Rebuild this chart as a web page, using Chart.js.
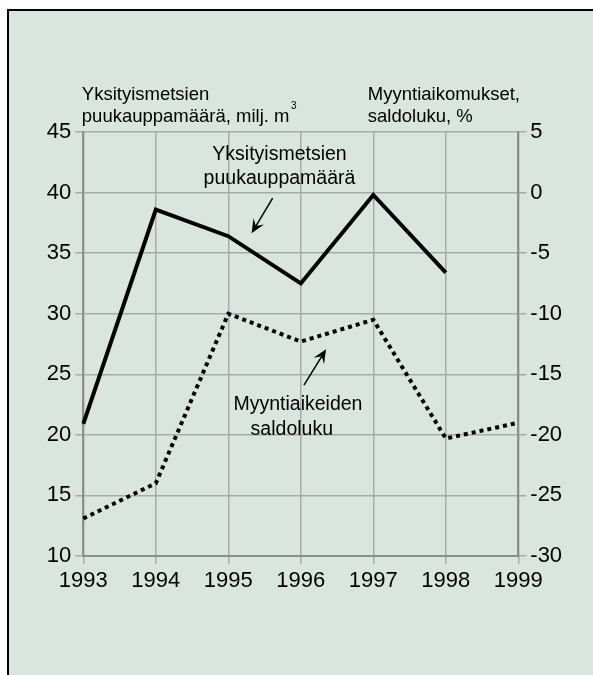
<!DOCTYPE html>
<html>
<head>
<meta charset="utf-8">
<script src="https://cdn.jsdelivr.net/npm/chart.js@4.4.0/dist/chart.umd.min.js"></script>
<style>
  html, body { margin: 0; padding: 0; background: #fff; }
  canvas { display: block; }
</style>
</head>
<body>
<canvas id="chart" width="593" height="675"></canvas>
<script>
/**years on the x axis */
const years = ["1993", "1994", "1995", "1996", "1997", "1998", "1999"];
/**private forest timber sales, million m3 (left axis) */
const timberSales = [20.9, 38.6, 36.4, 32.5, 39.8, 33.4, null];
/**balance of selling intentions, % (right axis) */
const sellBalance = [-26.9, -24.0, -10.0, -12.3, -10.5, -20.3, -19.0];
/**tick values of the two value axes */
const leftTicks = [10, 15, 20, 25, 30, 35, 40, 45];
const rightTicks = [-30, -25, -20, -15, -10, -5, 0, 5];

const FONT = "'Liberation Sans', Arial, Helvetica, sans-serif";
const PANEL = "#d9e5de";
const GRID = "#a9a9a9";
const AXIS = "#8e8e8e";

/**in-plot labels, placed by category index and left axis value */
const notes = [
    { text: "Yksityismetsien", x: 2.706, y: 42.65 },
    { text: "puukauppamäärä", x: 2.706, y: 40.73 },
    { text: "Myyntiaikeiden", x: 2.961, y: 22.04 },
    { text: "saldoluku", x: 2.876, y: 19.98 },
];
/**arrows: from (x1,y1) to the tip (x2,y2) */
const arrows = [
    { x1: 2.612, y1: 39.54, x2: 2.322, y2: 36.65 },
    { x1: 3.044, y1: 24.11, x2: 3.348, y2: 27.06 },
];

/**
 * draw a line with a notched arrow head
 */
function drawArrow(c, x1, y1, x2, y2) {
    const ang = Math.atan2(y2 - y1, x2 - x1);
    const len = 15, spread = 0.42;
    c.beginPath();
    c.moveTo(x1, y1);
    c.lineTo(x2 - 7 * Math.cos(ang), y2 - 7 * Math.sin(ang));
    c.stroke();
    c.beginPath();
    c.moveTo(x2, y2);
    c.lineTo(x2 - len * Math.cos(ang - spread), y2 - len * Math.sin(ang - spread));
    c.lineTo(x2 - len * 0.55 * Math.cos(ang), y2 - len * 0.55 * Math.sin(ang));
    c.lineTo(x2 - len * Math.cos(ang + spread), y2 - len * Math.sin(ang + spread));
    c.closePath();
    c.fill();
}

const panelPlugin = {
    id: "panel",
    beforeDraw(chart) {
        const c = chart.ctx;
        c.save();
        c.fillStyle = "#fff";
        c.fillRect(0, 0, chart.width, chart.height);
        c.fillStyle = PANEL;
        c.fillRect(8, 10, chart.width - 8, chart.height - 10);
        c.strokeStyle = "#000";
        c.lineWidth = 2;
        c.beginPath();
        c.moveTo(8, chart.height);
        c.lineTo(8, 10);
        c.lineTo(chart.width, 10);
        c.stroke();
        c.restore();
    },
    afterDraw(chart) {
        const c = chart.ctx;
        const area = chart.chartArea;
        const xs = chart.scales.x, ys = chart.scales.y;
        c.save();
        c.fillStyle = "#000";
        c.strokeStyle = "#000";
        // axis titles
        c.font = "18.5px " + FONT;
        c.textAlign = "left";
        c.textBaseline = "alphabetic";
        const lx = area.left - 1.5;
        c.fillText("Yksityismetsien", lx, area.top - 32);
        const line2 = "puukauppamäärä, milj. m";
        c.fillText(line2, lx, area.top - 10);
        const w = c.measureText(line2).width;
        c.font = "10px " + FONT;
        c.fillText("3", lx + w + 1.5, area.top - 23);
        c.font = "18.5px " + FONT;
        const rx = area.right - 150.5;
        c.fillText("Myyntiaikomukset,", rx, area.top - 32);
        c.fillText("saldoluku, %", rx, area.top - 10);
        // in-plot labels
        c.font = "19.5px " + FONT;
        c.textAlign = "center";
        notes.forEach((n) => {
            c.fillText(n.text, xs.getPixelForValue(n.x), ys.getPixelForValue(n.y));
        });
        c.lineWidth = 1.5;
        arrows.forEach((a) => {
            drawArrow(c,
                xs.getPixelForValue(a.x1), ys.getPixelForValue(a.y1),
                xs.getPixelForValue(a.x2), ys.getPixelForValue(a.y2));
        });
        c.restore();
    },
};

const tickFont = { family: FONT, size: 22 };

new Chart(document.getElementById("chart").getContext("2d"), {
    type: "line",
    data: {
        labels: years,
        datasets: [
            {
                label: "Yksityismetsien puukauppamäärä",
                data: timberSales,
                yAxisID: "y",
                borderColor: "#000",
                borderWidth: 4,
                pointRadius: 0,
                tension: 0,
            },
            {
                label: "Myyntiaikeiden saldoluku",
                data: sellBalance,
                yAxisID: "y2",
                borderColor: "#000",
                borderWidth: 4,
                borderDash: [4, 4],
                borderCapStyle: "butt",
                pointRadius: 0,
                tension: 0,
            },
        ],
    },
    options: {
        responsive: false,
        animation: false,
        layout: { padding: { top: 132, left: 0, right: 0, bottom: 0 } },
        plugins: { legend: { display: false }, tooltip: { enabled: false } },
        scales: {
            x: {
                offset: false,
                grid: { color: GRID, lineWidth: 1.5, tickLength: 8 },
                border: { color: AXIS, width: 2 },
                ticks: { color: "#000", font: tickFont, padding: 4, maxRotation: 0 },
                afterFit: (s) => { s.height = 119; },
            },
            y: {
                position: "left",
                min: leftTicks[0],
                max: leftTicks[leftTicks.length - 1],
                afterBuildTicks: (s) => { s.ticks = leftTicks.map((v) => ({ value: v })); },
                grid: { color: GRID, lineWidth: 1.5, tickLength: 8 },
                border: { color: AXIS, width: 2 },
                ticks: { color: "#000", font: tickFont, padding: 4 },
                afterFit: (s) => { s.width = 83.3; },
            },
            y2: {
                position: "right",
                min: rightTicks[0],
                max: rightTicks[rightTicks.length - 1],
                afterBuildTicks: (s) => { s.ticks = rightTicks.map((v) => ({ value: v })); },
                grid: { drawOnChartArea: false, color: GRID, lineWidth: 1.5, tickLength: 8 },
                border: { color: AXIS, width: 2 },
                ticks: { color: "#000", font: tickFont, padding: 4 },
                afterFit: (s) => { s.width = 74.7; },
            },
        },
    },
    plugins: [panelPlugin],
});
</script>
</body>
</html>
